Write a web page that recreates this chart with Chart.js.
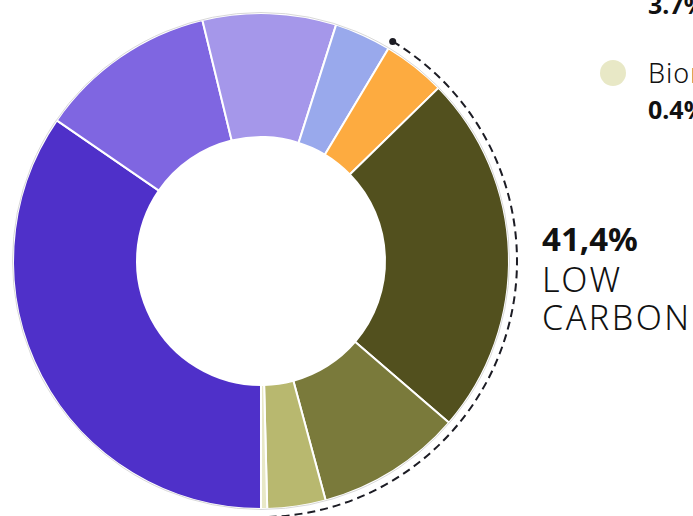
<!DOCTYPE html>
<html>
<head>
<meta charset="utf-8">
<script src="https://cdn.jsdelivr.net/npm/chart.js@4"></script>
<style>
  body { margin: 0; background: #fff; overflow: hidden; width: 693px; height: 516px; position: relative; font-family: "Noto Sans", sans-serif; color: #111; }
  #wrap { position: absolute; left: 0; top: 0; width: 522px; height: 522px; }
  .txt { position: absolute; white-space: nowrap; }
  .big { font-weight: 700; font-size: 33px; }
  .thin { font-weight: 300; font-size: 34px; letter-spacing: 2.5px; }
  .lg { font-size: 27px; font-weight: 300; letter-spacing: 1px; }
  .lgb { font-size: 25px; font-weight: 700; }
  .dot { position: absolute; width: 26px; height: 26px; border-radius: 50%; }
</style>
</head>
<body>
<div id="wrap"><canvas id="myChart"></canvas></div>

<div class="txt lgb" style="left:648px; top:-13px;">3.7%</div>
<div class="dot" style="left:600px; top:60px; background:#e8e8c6;"></div>
<div class="txt lg" style="left:648px; top:54px;">Biomass</div>
<div class="txt lgb" style="left:648px; top:92px;">0.4%</div>

<div class="txt big" style="left:542px; top:216px;">41,4%</div>
<div class="txt thin" style="left:542px; top:256px;">LOW</div>
<div class="txt thin" style="left:542px; top:294px;">CARBON</div>

<script>
const labels = ['Coal', 'Gas', 'Oil', 'Other fossil', 'Nuclear', 'Wind', 'Hydro', 'Solar', 'Biomass'];
const values = [34.6, 11.6, 8.7, 3.7, 4.1, 23.6, 9.5, 3.8, 0.4];
const colors = ['#4f30c9', '#7f66e1', '#a597ea', '#99a9ec', '#fdab40', '#52501e', '#7a7a3b', '#b8b86f', '#e8e8c6'];
const lowCarbonFrom = 4;
const lowCarbonTo = 8;

const ringExtras = {
  id: 'ringExtras',
  afterDatasetsDraw(chart) {
    const arcs = chart.getDatasetMeta(0).data;
    const ctx = chart.ctx;
    const a0 = arcs[0];
    const cx = a0.x, cy = a0.y, r = a0.outerRadius;

    // faint outline round the ring
    ctx.save();
    ctx.strokeStyle = '#d8d8d8';
    ctx.lineWidth = 1;
    ctx.beginPath();
    ctx.arc(cx, cy, r + 0.5, 0, Math.PI * 2);
    ctx.stroke();

    // dashed arc for low carbon
    const s = arcs[lowCarbonFrom].startAngle;
    const e = arcs[lowCarbonTo].endAngle;
    const rr = r + 8;
    ctx.strokeStyle = '#1c1c24';
    ctx.lineWidth = 2;
    ctx.setLineDash([8, 5]);
    ctx.beginPath();
    ctx.arc(cx, cy, rr, s, e);
    ctx.stroke();
    ctx.setLineDash([]);
    ctx.fillStyle = '#1c1c24';
    ctx.beginPath();
    ctx.arc(cx + rr * Math.cos(s), cy + rr * Math.sin(s), 3.5, 0, Math.PI * 2);
    ctx.fill();
    ctx.restore();
  }
};

const ctx = document.getElementById('myChart');
const myChart = new Chart(ctx, {
  type: 'doughnut',
  data: {
    labels: labels,
    datasets: [{
      data: values,
      backgroundColor: colors,
      borderColor: '#ffffff',
      borderWidth: 2,
      hoverOffset: 0
    }]
  },
  options: {
    responsive: true,
    maintainAspectRatio: false,
    animation: false,
    rotation: 180,
    cutout: '50%',
    layout: { padding: 12 },
    plugins: {
      legend: { display: false },
      tooltip: { enabled: false }
    }
  },
  plugins: [ringExtras]
});
</script>
</body>
</html>
